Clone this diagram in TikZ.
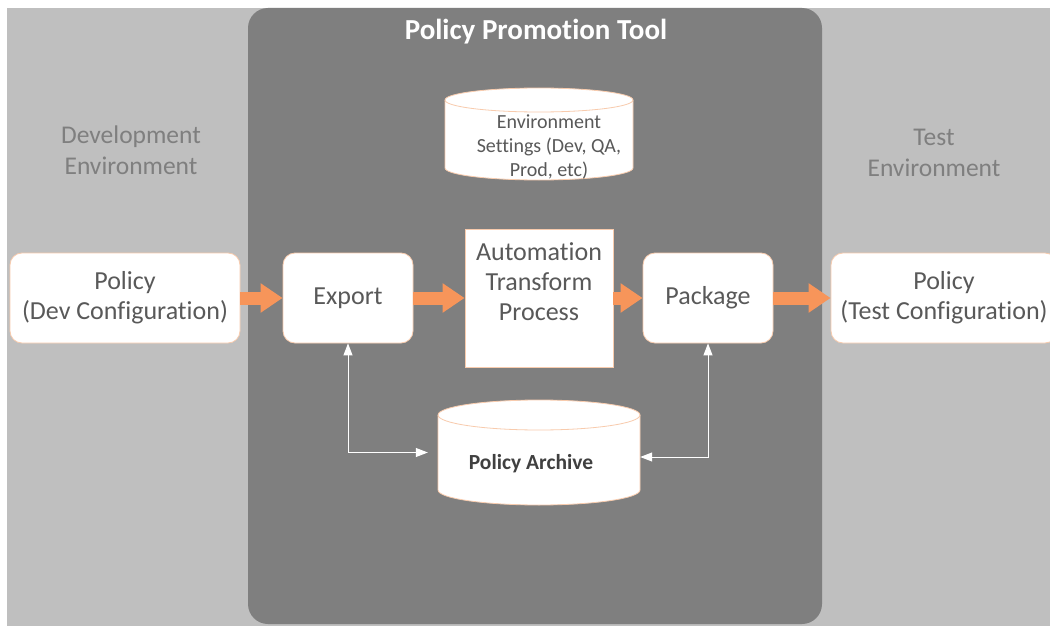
\documentclass[tikz,border=0pt]{standalone}
\usepackage{fontspec}
\setmainfont{Carlito}[Ligatures={NoCommon}]
\usetikzlibrary{arrows.meta}
\definecolor{bggray}{HTML}{BFBFBF}
\definecolor{panelgray}{HTML}{7F7F7F}
\definecolor{txtgray}{HTML}{595959}
\definecolor{envtxt}{HTML}{7F7F7F}
\definecolor{flow}{HTML}{F7955A}
\definecolor{rim}{HTML}{F8CBAD}
\definecolor{archtxt}{HTML}{404040}
\newcommand\drawcyl[5]{%
  \pgfmathsetmacro\cylrx{(#2-#1)/2}%
  \path[fill=white, draw=rim, line width=0.8pt] (#1,#3) -- (#1,#4)
    arc[start angle=180, end angle=360, x radius=\cylrx pt, y radius=#5pt]
    -- (#2,#3)
    arc[start angle=0, end angle=180, x radius=\cylrx pt, y radius=#5pt] -- cycle;
  \draw[rim, line width=0.8pt] (#2,#3)
    arc[start angle=0, end angle=-180, x radius=\cylrx pt, y radius=#5pt];
}
\begin{document}
\begin{tikzpicture}[x=1pt,y=-1pt,
  box/.style={draw=rim, line width=0.8pt, fill=white, rounded corners=12pt,
    inner sep=0pt, text=txtgray, font=\fontsize{26}{30}\selectfont, align=center},
  plainbox/.style={box, rounded corners=0pt},
  flowarrow/.style={draw=flow, line width=13pt, -{Triangle[length=22pt,width=28pt]}},
  wire/.style={draw=white, line width=1pt,
    {Triangle[length=12pt,width=9pt]}-{Triangle[length=12pt,width=9pt]}},
  envlabel/.style={text=envtxt, font=\fontsize{25.5}{31}\selectfont, align=center},
  anchorbox/.style={inner sep=0pt, draw=none}
]
\useasboundingbox (0,0) rectangle (1050,626);
\fill[white] (0,0) rectangle (1050,626);
\fill[bggray] (7,8) rectangle (1050,626);
\fill[panelgray, rounded corners=20pt] (248,8) rectangle (822,624);

% title and environment labels
\node[text=white, font=\fontsize{29}{34}\selectfont\bfseries] (title) at (536,32) {Policy Promotion Tool};
\node[envlabel] (devlabel) at (131,150) {Development\\Environment};
\node[envlabel] (testlabel) at (934,153) {Test\\Environment};

% environment settings cylinder
\drawcyl{445}{633}{100}{168}{12}
\node[anchorbox, minimum width=188pt, minimum height=92pt] (env) at (539,134) {};
\node[text=txtgray, font=\fontsize{20}{24}\selectfont, align=center] (envtext) at (549,147)
  {Environment\\Settings (Dev, QA,\\Prod, etc)};

% policy archive cylinder
\drawcyl{438}{640}{415}{490}{15}
\node[anchorbox, minimum width=202pt, minimum height=105pt] (archive) at (539,452.5) {};
\node[text=archtxt, font=\fontsize{21.5}{25}\selectfont\bfseries] (archtext) at (531,464) {Policy Archive};

% boxes
\node[box, minimum width=230pt, minimum height=90pt] (lpol) at (125,298) {Policy\\(Dev Configuration)};
\node[box, minimum width=130pt, minimum height=90pt] (export) at (348,298) {Export};
\node[plainbox, minimum width=148pt, minimum height=138pt] (auto) at (539,298) {};
\node[text=txtgray, font=\fontsize{26}{30}\selectfont, align=center] (autotext) at (539,282)
  {Automation\\Transform\\Process};
\node[box, minimum width=130pt, minimum height=90pt] (package) at (708,298) {Package};
\node[box, minimum width=226pt, minimum height=90pt] (rpol) at (944,298) {Policy\\(Test Configuration)};

% flow arrows
\draw[flowarrow] (lpol.east) -- (export.west);
\draw[flowarrow] (export.east) -- (auto.west);
\draw[flowarrow] (auto.east) -- (package.west);
\draw[flowarrow] (package.east) -- (rpol.west);

% archive connectors
\draw[wire] (export.south) |- ([xshift=-10pt]archive.west);
\draw[wire] (package.south) |- ([yshift=-4.5pt]archive.east);
\end{tikzpicture}
\end{document}
